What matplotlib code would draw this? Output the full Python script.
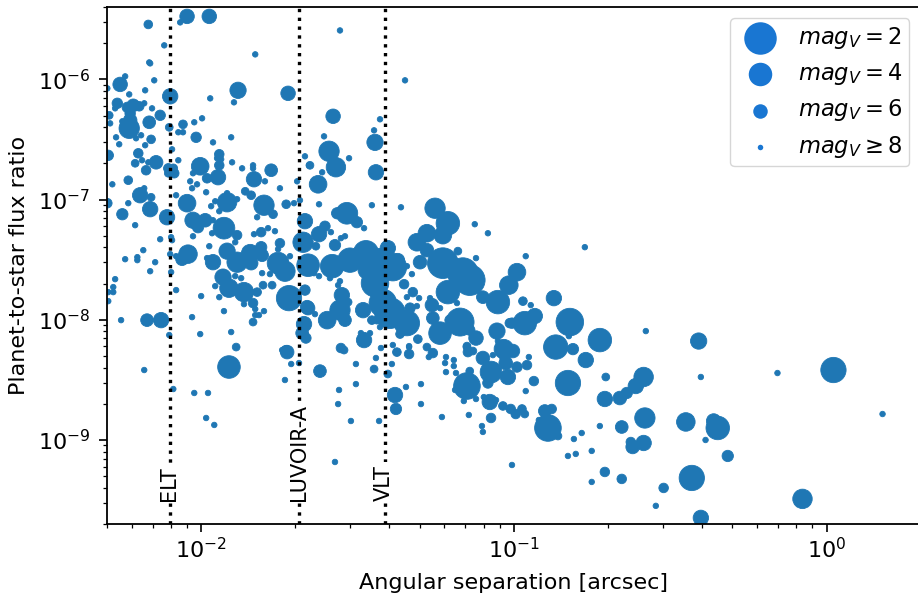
import matplotlib
matplotlib.use("Agg")
import matplotlib.pyplot as plt
import numpy as np

# values: log10(separation), log10(flux ratio), V magnitude
log_sep = [
    -2.045, -1.974, -2.067, -2.169, -2.118, -1.827, -2.166, -2.163, -2.243, -2.259, -2.150, -2.179, -2.230, -2.099, -1.882, -1.722,
    -1.971, -1.895, -2.300, -2.157, -2.131, -2.166, -2.294, -2.291, -2.268, -2.275, -2.236, -2.217, -2.198, -2.182, -2.227, -2.227,
    -2.230, -2.252, -2.208, -2.192, -2.272, -2.262, -2.179, -2.160, -2.102, -2.073, -2.058, -2.058, -2.022, -1.997, -2.016, -1.962,
    -1.904, -2.093, -1.668, -2.297, -2.201, -2.211, -2.189, -2.169, -2.144, -2.073, -2.176, -2.105, -2.089, -2.105, -2.086, -1.942,
    -1.949, -1.936, -1.942, -2.003, -1.901, -1.869, -1.834, -1.834, -1.776, -1.655, -2.026, -1.831, -1.946, -1.981, -2.233, -2.284,
    -2.035, -2.013, -2.029, -1.984, -1.796, -1.859, -1.840, -1.748, -1.693, -2.195, -2.182, -2.160, -2.233, -2.300, -2.252, -2.163,
    -2.109, -2.080, -2.045, -1.917, -1.917, -1.955, -1.968, -1.942, -1.885, -1.799, -1.821, -1.770, -1.728, -1.703, -1.684, -2.211,
    -2.026, -2.010, -1.987, -1.962, -1.927, -1.885, -1.891, -1.965, -2.026, -2.131, -2.096, -2.093, -1.831, -1.808, -1.786, -1.764,
    -1.974, -2.185, -2.243, -2.204, -2.204, -2.147, -2.099, -2.080, -2.042, -2.061, -1.981, -1.962, -1.917, -1.885, -1.843, -1.840,
    -1.808, -1.805, -1.748, -1.754, -1.754, -1.732, -1.716, -1.674, -1.674, -2.163, -2.096, -1.805, -1.780, -1.930, -1.891, -1.872,
    -2.275, -2.281, -2.281, -2.297, -2.297, -1.955, -1.911, -1.863, -1.802, -1.773, -1.821, -2.080, -2.000, -1.942, -1.719, -1.668,
    -1.661, -1.863, -1.834, -1.827, -1.799, -1.827, -1.815, -1.834, -1.927, -2.029, -2.256, -2.173, -2.128, -2.102, -2.003, -1.904,
    -1.888, -1.725, -1.671, -1.677, -1.665, -1.578, -1.591, -1.569, -1.444, -1.441, -1.428, -1.447, -1.556, -1.348, -1.607, -1.527,
    -1.652, -1.613, -1.626, -1.623, -1.454, -1.361, -1.252, -1.211, -1.227, -1.125, -1.083, -1.534, -1.565, -1.502, -1.479, -1.668,
    -1.604, -1.623, -1.585, -1.633, -1.572, -1.553, -1.540, -1.403, -1.278, -1.310, -1.278, -1.300, -1.179, -1.121, -1.227, -1.163,
    -1.141, -1.211, -1.099, -1.051, -1.016, -1.524, -1.581, -1.473, -1.428, -1.658, -1.639, -1.623, -1.387, -1.371, -1.342, -1.326,
    -1.470, -1.444, -1.556, -1.562, -1.588, -1.550, -1.351, -1.323, -1.342, -1.303, -1.310, -1.182, -1.262, -1.268, -1.236, -1.419,
    -1.396, -1.556, -1.540, -1.597, -1.530, -1.658, -1.636, -1.482, -1.454, -1.438, -1.428, -1.342, -1.332, -1.364, -1.307, -1.259,
    -1.236, -1.172, -1.204, -1.141, -1.121, -1.054, -1.013, -1.479, -1.489, -1.460, -1.425, -1.553, -1.387, -1.374, -1.335, -1.278,
    -1.150, -1.035, -1.051, -0.773, -0.962, -0.990, -0.872, -0.971, -0.946, -0.933, -0.965, -1.006, -0.821, -0.824, -0.725, -0.866,
    -0.811, -0.770, -0.578, -0.409, -1.032, -1.003, -1.067, -0.952, -1.029, -1.026, -0.990, -1.073, -1.019, -1.083, -1.141, -1.150,
    -1.188, -0.958, -0.936, -0.962, -0.827, -0.706, -0.585, -0.610, -0.639, -0.661, -0.709, -1.297, -1.345, -1.380, -1.377, -1.297,
    -1.160, -1.121, -1.096, -1.077, -1.057, -1.035, -1.010, -0.994, -0.974, -0.965, -1.230, -1.144, -1.073, -1.102, -1.099, -0.901,
    -0.879, -0.891, -0.920, -0.859, -0.808, -0.783, -0.725, -0.827, -0.802, -0.751, -0.655, -0.581, -0.626, -0.620, -0.585, -0.709,
    -0.655, -0.751, -1.006, -0.546, -0.402, -0.157, 0.022, 0.179, -0.450, -0.361, -0.348, -0.387, -0.316, -0.431, -0.521, -0.077,
    -0.402, -2.182, -1.911, -2.089, -2.022, -1.978, -1.984, -1.958, -1.741, -1.728, -1.712, -1.687, -1.620, -1.732, -1.543, -1.441,
    -1.505, -1.447, -1.390, -1.403, -1.559, -1.505, -1.562, -1.521, -1.431, -1.572, -1.099, -1.131, -1.147, -1.150, -1.217, -1.220,
    -1.192, -1.192, -1.217, -1.185, -1.272, -1.259, -1.335, -1.335,
]
log_flux = [
    -5.476, -5.476, -5.526, -5.543, -5.717, -5.792, -5.859, -5.867, -5.975, -6.042, -6.008, -6.091, -6.125, -6.141, -6.091, -6.116,
    -6.158, -6.191, -6.075, -6.241, -6.299, -6.357, -6.299, -6.366, -6.199, -6.241, -6.233, -6.216, -6.224, -6.199, -6.283, -6.341,
    -6.407, -6.349, -6.490, -6.465, -6.482, -6.540, -6.548, -6.499, -6.399, -6.440, -6.440, -6.374, -6.357, -6.324, -6.482, -6.524,
    -6.482, -6.582, -6.640, -6.632, -6.615, -6.698, -6.673, -6.690, -6.690, -6.673, -6.756, -6.740, -6.740, -6.781, -6.781, -6.623,
    -6.656, -6.665, -6.715, -6.723, -6.690, -6.740, -6.715, -6.740, -6.756, -6.715, -6.781, -6.831, -6.814, -6.823, -6.839, -6.873,
    -6.848, -6.873, -6.906, -6.939, -6.848, -6.931, -6.964, -6.906, -6.848, -6.964, -6.906, -6.981, -7.030, -7.030, -7.122, -7.080,
    -7.147, -6.964, -7.030, -7.022, -6.947, -7.014, -7.055, -7.097, -6.997, -7.047, -7.147, -7.122, -7.039, -7.030, -7.006, -7.213,
    -7.172, -7.230, -7.172, -7.172, -7.238, -7.296, -7.355, -7.280, -7.305, -7.330, -7.313, -7.338, -7.288, -7.271, -7.238, -7.263,
    -7.388, -7.421, -7.496, -7.479, -7.504, -7.521, -7.454, -7.471, -7.454, -7.496, -7.487, -7.521, -7.429, -7.521, -7.446, -7.529,
    -7.396, -7.463, -7.363, -7.413, -7.529, -7.596, -7.471, -7.180, -7.355, -7.596, -7.604, -7.612, -7.620, -7.645, -7.637, -7.654,
    -7.662, -7.728, -7.770, -7.770, -7.845, -7.720, -7.737, -7.770, -7.712, -7.712, -7.770, -7.753, -7.803, -7.812, -7.820, -7.753,
    -7.895, -7.870, -7.861, -7.911, -7.928, -7.961, -7.961, -8.019, -7.928, -7.978, -8.003, -8.003, -8.003, -8.127, -8.119, -8.102,
    -8.227, -8.269, -8.036, -8.111, -8.152, -6.307, -6.598, -6.731, -6.524, -6.773, -6.332, -6.424, -5.593, -6.008, -6.474, -6.656,
    -6.715, -6.773, -6.873, -7.039, -7.047, -7.064, -7.072, -7.197, -7.296, -7.205, -7.280, -7.114, -7.114, -7.188, -7.238, -7.180,
    -7.222, -7.288, -7.271, -7.388, -7.379, -7.321, -7.305, -7.404, -7.280, -7.355, -7.421, -7.521, -7.429, -7.487, -7.529, -7.612,
    -7.670, -7.770, -7.812, -7.853, -7.712, -7.504, -7.554, -7.446, -7.504, -7.546, -7.612, -7.637, -7.562, -7.504, -7.554, -7.620,
    -7.587, -7.695, -7.679, -7.712, -7.654, -7.795, -7.704, -7.770, -7.812, -7.820, -7.886, -7.861, -7.878, -7.820, -7.903, -7.861,
    -7.945, -7.920, -8.003, -8.003, -7.853, -7.903, -7.953, -7.920, -8.003, -8.003, -8.061, -8.028, -7.903, -8.119, -8.161, -7.986,
    -8.111, -8.019, -8.003, -8.086, -8.152, -8.094, -8.028, -8.169, -8.111, -8.111, -8.235, -8.235, -8.210, -8.269, -8.227, -8.227,
    -8.227, -8.227, -8.177, -7.396, -7.471, -7.604, -7.820, -7.845, -7.878, -7.969, -8.028, -8.028, -8.019, -8.136, -8.169, -8.227,
    -8.244, -8.335, -8.094, -8.177, -8.244, -8.260, -8.294, -8.310, -8.310, -8.360, -8.393, -8.435, -8.476, -8.526, -8.427, -8.551,
    -8.584, -8.377, -8.510, -8.593, -8.526, -8.476, -8.476, -8.551, -8.609, -8.651, -8.659, -8.535, -8.559, -8.626, -8.742, -8.701,
    -8.676, -8.659, -8.643, -8.684, -8.668, -8.717, -8.742, -8.784, -8.742, -8.784, -8.809, -8.792, -8.817, -8.884, -8.933, -8.759,
    -8.742, -8.900, -8.834, -8.967, -8.992, -8.942, -8.884, -9.133, -9.116, -9.091, -8.892, -8.817, -9.017, -9.058, -9.025, -9.266,
    -9.324, -9.349, -9.208, -9.548, -8.476, -8.443, -8.418, -8.784, -8.850, -8.842, -8.900, -9.000, -9.133, -9.316, -9.399, -9.490,
    -9.648, -8.418, -8.393, -8.576, -8.609, -8.609, -8.817, -8.875, -8.252, -8.260, -8.368, -8.360, -8.427, -8.501, -8.252, -8.318,
    -8.368, -8.410, -8.368, -8.451, -8.584, -8.535, -8.701, -8.842, -8.842, -9.183, -8.318, -8.260, -8.269, -8.219, -8.310, -8.360,
    -8.335, -8.385, -8.435, -8.443, -8.310, -8.277, -8.219, -8.285,
]
mag_v = [
    6, 6, 8, 7.3, 8, 8, 8, 8, 8, 6, 8, 8, 8, 5.8, 5.6, 6,
    8, 8, 8, 8, 6.9, 6.4, 7.5, 8, 6.9, 8, 6.9, 6.4, 7.1, 8, 6.9, 6.2,
    4.7, 8, 8, 8, 8, 8, 8, 7.3, 7.5, 8, 8, 7.3, 8, 8, 6.9, 8,
    8, 8, 8, 6.9, 7.1, 7.5, 8, 8, 6.2, 8, 7.1, 7.1, 7.3, 7.5, 7.1, 7.1,
    8, 8, 7.1, 5.3, 8, 8, 8, 8, 6.4, 8, 8, 5.8, 5.8, 7.1, 7.3, 8,
    8, 8, 8, 8, 8, 7.5, 7.3, 8, 8, 5.8, 8, 7.5, 8, 7.1, 6.7, 5.8,
    5.8, 8, 5.3, 4.9, 8, 8, 8, 8, 8, 4.7, 8, 7.3, 7.3, 8, 8, 8,
    5.6, 6.7, 6.2, 8, 4.4, 7.1, 8, 8, 8, 8, 8, 8, 8, 7.1, 8, 8,
    8, 8, 8, 8, 8, 8, 8, 8, 5.1, 6.4, 8, 5.8, 5.6, 4.7, 5.3, 6.2,
    6.7, 6.4, 7.1, 8, 4.4, 4.7, 8, 6.7, 4.7, 8, 8, 8, 8, 5.6, 8, 8,
    8, 8, 8, 8, 8, 8, 5.1, 4.9, 7.5, 7.5, 7.3, 8, 8, 8, 3.6, 6.9,
    6.2, 8, 7.1, 8, 8, 8, 8, 7.5, 8, 8, 8, 6.4, 5.8, 8, 8, 8,
    7.5, 6.2, 5.8, 6.4, 6.9, 6, 4.7, 4.9, 5.6, 5.8, 8, 8, 8, 8, 8, 8,
    7.5, 8, 5.3, 8, 8, 8, 4.7, 4, 5.3, 8, 8, 4.4, 6.7, 6.7, 8, 5.8,
    6.9, 5.8, 8, 7.5, 6.7, 8, 8, 5.8, 5.3, 5.3, 6.2, 6.2, 7.5, 8, 2.4, 2.4,
    2.4, 4, 6.4, 4, 5.1, 3.8, 4, 3.6, 4, 4.2, 8, 8, 3.1, 6.2, 8, 8,
    5.3, 3.1, 8, 8, 8, 5.8, 7.1, 7.1, 8, 8, 8, 8, 6.2, 8, 8, 3.1,
    2.4, 4.7, 6.4, 5.3, 7.5, 6.2, 8, 5.8, 7.3, 7.5, 8, 3.6, 6.9, 7.3, 7.3, 6.4,
    4.2, 3, 6.9, 6.9, 6, 5.6, 7.1, 5.8, 8, 8, 8, 7.1, 8, 7.3, 8, 7.5,
    7.5, 6.2, 8, 8, 8, 5.3, 5.8, 7.3, 8, 5.8, 4, 6.9, 3.1, 8, 4, 3.8,
    6.7, 5.8, 8, 5.6, 4.9, 6.2, 8, 8, 6.9, 6.2, 6.9, 4.4, 5.8, 6.9, 7.5, 3.3,
    8, 7.1, 7.1, 8, 3.6, 7.5, 4.9, 5.8, 6.7, 6.2, 5.8, 8, 8, 5.8, 6.7, 8,
    8, 8, 8, 5.8, 8, 7.3, 7.1, 7.1, 7.3, 7.5, 8, 8, 7.1, 8, 8, 6.4,
    7.1, 3.3, 8, 7.5, 8, 8, 8, 8, 8, 8, 6.4, 4.7, 7.1, 6.2, 5.8, 7.1,
    7.1, 8, 8, 8, 8, 8, 3.6, 8, 5.1, 6, 4, 8, 6.7, 3.6, 7.1, 4.9,
    5.8, 8, 4.2, 8, 8, 8, 8, 8, 8, 6.7, 8, 8, 6.4, 8, 7.5, 8,
    8, 7.5, 8, 7.5, 8, 8, 8, 8, 8, 8, 6.2, 7.5, 7.1, 7.5, 8, 8,
    8, 8, 8, 8, 8, 7.1, 8, 7.1,
]

limit_names = ["ELT", "LUVOIR-A", "VLT"]
limit_sep = [0.00794, 0.0206, 0.0387]
legend_mags = [2, 4, 6, 8]
legend_labels = ["$mag_V = 2$", "$mag_V = 4$", "$mag_V = 6$", r"$mag_V \geq 8$"]

DPI = 100
FONT = 16


def marker_area(mag):
    # marker diameter in pixels shrinks linearly with magnitude
    diameter = (41.5 - 4.5 * np.asarray(mag, dtype=float)) * 72 / DPI
    return diameter ** 2


plt.rcParams["font.family"] = "DejaVu Sans"
plt.rcParams["font.size"] = FONT
plt.rcParams["axes.linewidth"] = 1.3

fig = plt.figure(figsize=(9.18, 5.96), dpi=DPI)
# the right spine falls just outside the saved picture, as in the original crop
ax = fig.add_axes([107 / 918, 1 - 524 / 596, (920.7 - 107) / 918, (524 - 7) / 596])

ax.scatter(10.0 ** np.array(log_sep), 10.0 ** np.array(log_flux), s=marker_area(mag_v), color="#1f77b4",
           edgecolors="#1f77b4", linewidths=0.6, zorder=2)

ax.set_xscale("log")
ax.set_yscale("log")
ax.set_xlim(0.005, 2)
ax.set_ylim(2e-10, 4e-6)

for name, sep in zip(limit_names, limit_sep):
    ax.axvline(sep, color="black", linestyle=":", linewidth=2.4, zorder=3)
    ax.annotate(name, (sep, 3e-10), xytext=(-0.5, 1.5), textcoords="offset points", rotation=90, ha="center",
                va="bottom", fontsize=15, zorder=4, bbox=dict(facecolor="white", edgecolor="none", pad=2))

ax.tick_params(which="major", length=5.6, width=1.2, labelsize=FONT)
ax.tick_params(which="minor", length=3.2, width=0.9)
ax.tick_params(axis="y", which="major", pad=6.5)
ax.xaxis.set_minor_formatter(matplotlib.ticker.NullFormatter())
ax.yaxis.set_major_locator(matplotlib.ticker.LogLocator(base=10, numticks=12))
ax.yaxis.set_minor_locator(matplotlib.ticker.LogLocator(base=10, subs=np.arange(2, 10) * 0.1, numticks=12))
ax.yaxis.set_minor_formatter(matplotlib.ticker.NullFormatter())
ax.set_xlabel("Angular separation [arcsec]", fontsize=FONT, labelpad=8)
ax.set_ylabel("Planet-to-star flux ratio", fontsize=FONT, labelpad=6)

for mag, label in zip(legend_mags, legend_labels):
    ax.scatter([], [], s=marker_area(mag), color="#1976d2", linewidths=0, label=label)
ax.legend(loc="upper right", fontsize=16.3, labelspacing=0.45, borderpad=0.3, handletextpad=0.7, scatterpoints=1)

fig.savefig("out.png", dpi=DPI)
